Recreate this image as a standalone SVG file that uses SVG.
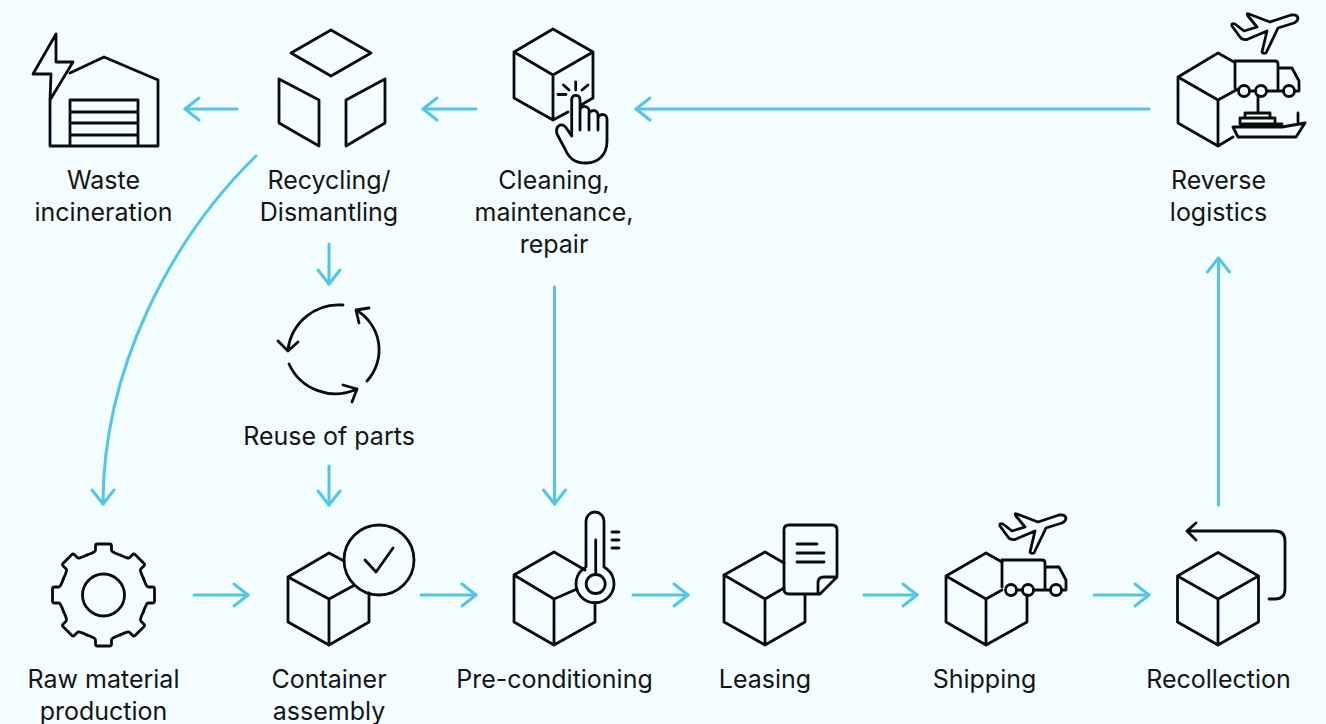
<svg xmlns="http://www.w3.org/2000/svg" xmlns:xlink="http://www.w3.org/1999/xlink" width="1326" height="724" viewBox="0 0 1326 724">
<style>
.i{fill:none;stroke:#0b0b0b;stroke-width:2.8;stroke-linecap:round;stroke-linejoin:round}
.c{fill:none;stroke:#52c5e9;stroke-width:3;stroke-linecap:round;marker-end:url(#h)}
text{font-family:"Inter","Liberation Sans",sans-serif;font-size:25px;fill:#151515;text-anchor:middle}
</style>
<defs>
<marker id="h" markerUnits="userSpaceOnUse" markerWidth="40" markerHeight="40" viewBox="-20 -20 40 40" refX="0" refY="0" orient="auto"><path d="M-14,-11L0,0L-14,11" fill="none" stroke="#52c5e9" stroke-width="3" stroke-linecap="round" stroke-linejoin="round"/></marker>
<path id="cube" d="M0,0L-40.500,-23L0,-46.500L40.500,-23ZM0,0V46M-40.500,-23V23L0,46L40.500,23V-23"/>
<path id="tooth" d="M-16.500,-40Q-12,-41.500 -9.500,-43Q-8,-43.500 -8,-45V-49Q-8,-51 -6,-51H6Q8,-51 8,-49V-45Q8,-43.500 9.500,-43Q12,-41.500 16.500,-40"/>
<g id="plane"><path d="M1298,18Q1297,14 1291,15L1270,22L1249,14Q1246,13 1248,16L1257,27L1244,31L1235,24Q1231,23 1232,26L1240,37Q1242,40 1247,39.500L1267,31L1262,52Q1263,54 1266,53L1278,28L1294,23Q1298,21 1298,18Z"/></g>
<g id="truck"><path d="M1235,61H1275Q1278,61 1278,64V90M1235,61V88M1279,68H1292L1299,81V91H1295M1250,91H1255M1267,91H1283"/><circle cx="1244" cy="91" r="5.500"/><circle cx="1261" cy="91" r="5.500"/><circle cx="1289" cy="91" r="5.500"/></g>
</defs>
<rect width="1326" height="724" fill="#f3fcfe"/>
<g id="connectors">
<path class="c" d="M237,109H185"/>
<path class="c" d="M476,109H423"/>
<path class="c" d="M1149,109H636"/>
<path class="c" d="M256,156C170,240 103,370 103,504"/>
<path class="c" d="M329,244V284"/>
<path class="c" d="M329,466V505"/>
<path class="c" d="M554.500,287V504"/>
<path class="c" d="M194,595H248"/>
<path class="c" d="M421,595H476"/>
<path class="c" d="M633,595H688"/>
<path class="c" d="M864,595H917"/>
<path class="c" d="M1094,595H1149"/>
<path class="c" d="M1218.500,505V258"/>
</g>
<g id="waste-incineration">
<path class="i" d="M50,100V146H158V80L104,57L70,73M56,34L33,74H51L50,100L73,62H56ZM70,146V100H138V146M70,112H138M70,123H138M70,135H138"/>
<text x="103.500" y="189">Waste</text><text x="103.500" y="221">incineration</text>
</g>
<g id="recycling">
<path class="i" d="M331,30L371,53L331,76L291,53ZM279,79L319,100V146L279,123ZM385,79L346,100V146L385,123Z"/>
<text x="329" y="189">Recycling/</text><text x="329" y="221">Dismantling</text>
</g>
<g id="cleaning">
<path class="i" d="M553,75L514,52L553,29L593,52ZM553,75V120M514,52V98L553,120L568,112M593,52V98L581,105"/>
<path class="i" d="M575.700,82V90M563.500,85L569,90M588,85L582,90M558,94.500H566"/>
<path class="i" d="M571.700,136V99A4.200,4.200 0 0 1 580,99V130M580,110A4.500,4.500 0 0 1 589,112V130M589,115A4.500,4.500 0 0 1 598,115V130M598,119A4.500,4.500 0 0 1 607,119V141C607,155 598,163 586,163C574,163 569,158 565,149L557,134Q555,128 560,125Q564,124 567,129L571.700,136"/>
<text x="554" y="189">Cleaning,</text><text x="554" y="221">maintenance,</text><text x="554" y="253">repair</text>
</g>
<g id="reverse-logistics">
<path class="i" d="M1218,100L1178,77L1218,53L1234,62M1218,100L1238,89M1218,100V146M1178,77V123L1218,146L1233,137"/>
<g class="i"><use href="#plane"/><use href="#truck"/></g>
<path class="i" d="M1258,96V113M1247,113H1270M1245,113V118M1270,113V118M1242,118H1273M1240,118V124M1275,118V124M1233,127H1282L1305,123L1296,137H1238ZM1240,124H1282M1298,113V122"/>
<text x="1218.500" y="189">Reverse</text><text x="1218.500" y="221">logistics</text>
</g>
<g id="reuse-of-parts">
<path class="i" d="M343,305A51,51 0 0 0 288,350M278,341L288,351L298,342M289,364A51,51 0 0 0 357,389M343,385L357,389L352,402M367,381A46,46 0 0 0 356,310M369,308L356,310L359,323"/>
<text x="329" y="445">Reuse of parts</text>
</g>
<g id="raw-material">
<g class="i" transform="translate(103.500,595)"><use href="#tooth"/><use href="#tooth" transform="rotate(45)"/><use href="#tooth" transform="rotate(90)"/><use href="#tooth" transform="rotate(135)"/><use href="#tooth" transform="rotate(180)"/><use href="#tooth" transform="rotate(225)"/><use href="#tooth" transform="rotate(270)"/><use href="#tooth" transform="rotate(315)"/><circle r="21"/></g>
<text x="103.500" y="688">Raw material</text><text x="103.500" y="720">production</text>
</g>
<g id="container-assembly">
<path class="i" d="M329,599L288,577L329,553L344,561M329,599L353,586M329,599V645M288,577V622L329,645L369,622V593"/>
<circle class="i" cx="379" cy="560" r="35"/><path class="i" d="M365,560L376,572L393,548"/>
<text x="329" y="688">Container</text><text x="329" y="720">assembly</text>
</g>
<g id="pre-conditioning">
<path class="i" d="M554,599L514,575L554,552L585,570M554,599L577,589M554,599V645M514,575V622L554,645L595,622V603"/>
<path class="i" d="M586,567V521A9,9 0 0 1 604,521V567A19,19 0 1 1 586,567Z"/><circle class="i" cx="595.700" cy="584" r="9.500"/>
<path class="i" d="M595.700,540V574M612,532H619M612,540H619M612,548H619"/>
<text x="554.500" y="688">Pre-conditioning</text>
</g>
<g id="leasing">
<path class="i" d="M765,599L724,575L765,552L784,563M765,599L784,588M765,599V645M724,575V622L765,645L805,622V595"/>
<path class="i" d="M818,594H789Q784,594 784,589V530Q784,525 789,525H832Q837,525 837,530V577L820,594ZM818,594V583Q818,577 824,577H837M797,544H817M797,553H824M797,562H824"/>
<text x="765" y="688">Leasing</text>
</g>
<g id="shipping">
<path class="i" d="M986,599L946,576L986,553L1002,562M986,599L1002,590M986,599V645M946,576V622L986,645L1027,622V595"/>
<g class="i" transform="translate(-233,499)"><use href="#truck"/></g>
<g class="i" transform="translate(-232,500)"><use href="#plane"/></g>
<text x="984.500" y="688">Shipping</text>
</g>
<g id="recollection">
<use class="i" href="#cube" x="1218" y="599"/>
<path class="i" d="M1269,599H1275Q1285,599 1285,589V541Q1285,531 1275,531H1187M1196,523L1187,531L1196,540"/>
<text x="1218.500" y="688">Recollection</text>
</g>
</svg>
